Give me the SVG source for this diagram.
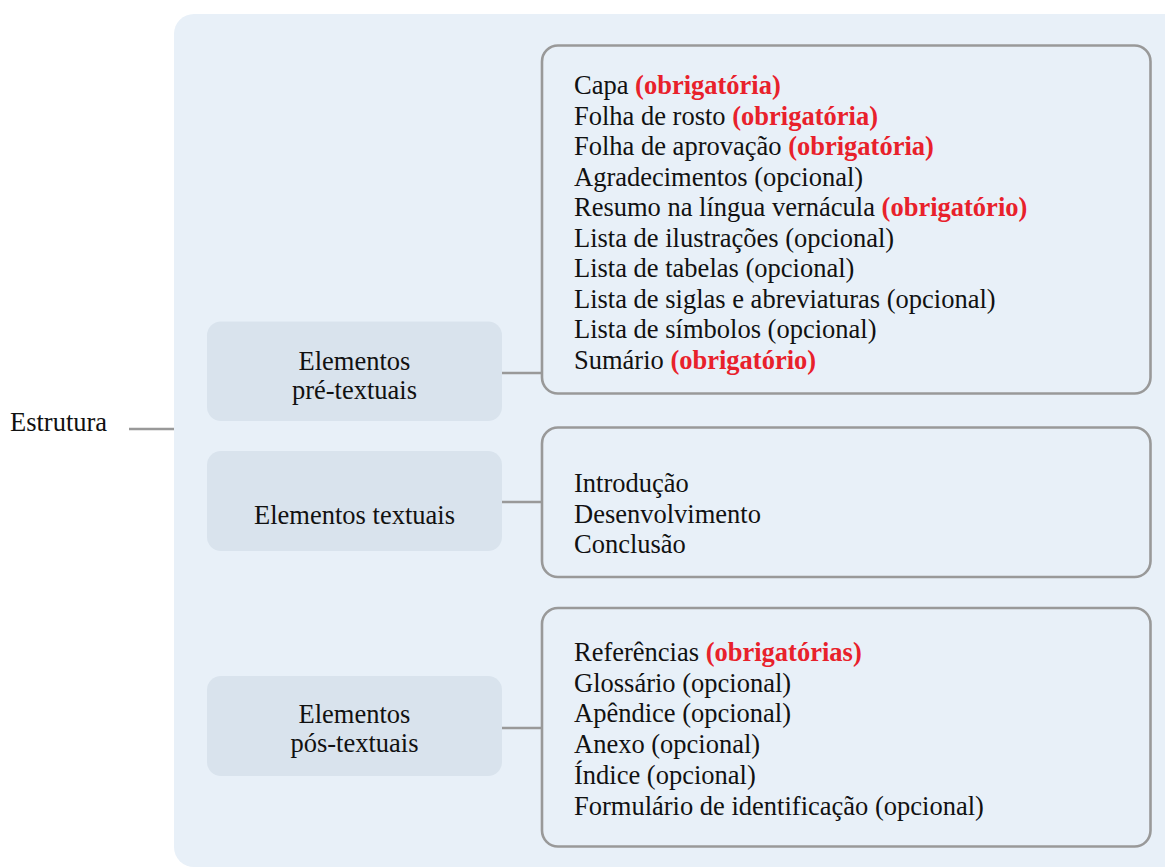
<svg xmlns="http://www.w3.org/2000/svg" width="1165" height="868" viewBox="0 0 1165 868">
<style>
text{font-family:"Liberation Serif","Times New Roman",serif;font-size:26.5px;fill:#111111}
.c{text-anchor:middle}
.r{fill:#e8212b;font-weight:bold}
.node{fill:#d9e3ed}
.list{fill:none;stroke:#999999;stroke-width:2.6}
.conn line{stroke:#999999;stroke-width:2.6}
</style>
<rect x="174" y="14" width="1020" height="853" rx="20" fill="#e8f0f8"/>
<g id="root"><text x="10" y="431">Estrutura</text></g>
<g id="connectors" class="conn">
<line x1="129" y1="429" x2="174" y2="429"/>
<line x1="502" y1="373" x2="542" y2="373"/>
<line x1="502" y1="502" x2="542" y2="502"/>
<line x1="502" y1="728" x2="542" y2="728"/>
</g>
<g id="pre">
<rect class="node" x="207" y="321.5" width="295" height="99.5" rx="14"/>
<text class="c" x="354.5" y="370">Elementos</text>
<text class="c" x="354.5" y="399">pré-textuais</text>
</g>
<g id="textuais">
<rect class="node" x="207" y="451" width="295" height="100" rx="14"/>
<text class="c" x="354.5" y="523.5">Elementos textuais</text>
</g>
<g id="pos">
<rect class="node" x="207" y="676" width="295" height="100" rx="14"/>
<text class="c" x="354.5" y="723">Elementos</text>
<text class="c" x="354.5" y="752">pós-textuais</text>
</g>
<g id="lista-pre">
<rect class="list" x="542" y="45.5" width="608.5" height="348" rx="16"/>
<text x="574" y="94">Capa <tspan class="r">(obrigatória)</tspan></text>
<text x="574" y="124.5">Folha de rosto <tspan class="r">(obrigatória)</tspan></text>
<text x="574" y="155">Folha de aprovação <tspan class="r">(obrigatória)</tspan></text>
<text x="574" y="185.5">Agradecimentos (opcional)</text>
<text x="574" y="216">Resumo na língua vernácula <tspan class="r">(obrigatório)</tspan></text>
<text x="574" y="246.5">Lista de ilustrações (opcional)</text>
<text x="574" y="277">Lista de tabelas (opcional)</text>
<text x="574" y="307.5">Lista de siglas e abreviaturas (opcional)</text>
<text x="574" y="338">Lista de símbolos (opcional)</text>
<text x="574" y="368.5">Sumário <tspan class="r">(obrigatório)</tspan></text>
</g>
<g id="lista-textuais">
<rect class="list" x="542" y="427.5" width="608.5" height="149.5" rx="16"/>
<text x="574" y="492">Introdução</text>
<text x="574" y="522.5">Desenvolvimento</text>
<text x="574" y="553">Conclusão</text>
</g>
<g id="lista-pos">
<rect class="list" x="542" y="608" width="608.5" height="238.5" rx="16"/>
<text x="574" y="661">Referências <tspan class="r">(obrigatórias)</tspan></text>
<text x="574" y="691.7">Glossário (opcional)</text>
<text x="574" y="722.4">Apêndice (opcional)</text>
<text x="574" y="753">Anexo (opcional)</text>
<text x="574" y="783.8">Índice (opcional)</text>
<text x="574" y="814.5">Formulário de identificação (opcional)</text>
</g>
</svg>
